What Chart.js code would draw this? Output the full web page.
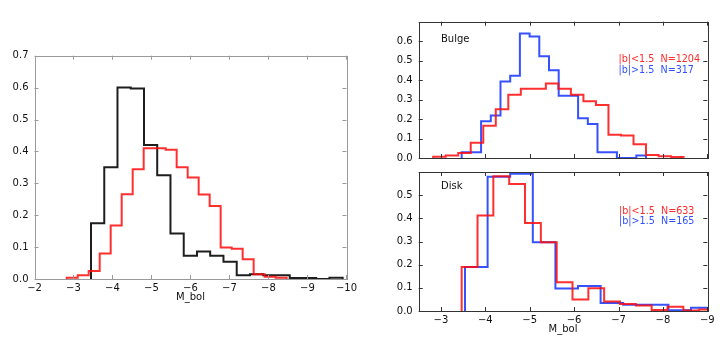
<!DOCTYPE html>
<html>
<head>
<meta charset="utf-8">
<script src="https://cdn.jsdelivr.net/npm/chart.js@4"></script>
<style>
  body { margin: 0; background: #fff; }
  #wrap { position: relative; width: 727px; height: 342px; }
  canvas { position: absolute; }
</style>
</head>
<body>
<div id="wrap">
  <canvas id="all" width="360" height="342" style="left:0;top:0"></canvas>
  <canvas id="bulge" width="367" height="170" style="left:360px;top:0"></canvas>
  <canvas id="disk" width="367" height="182" style="left:360px;top:160px"></canvas>
</div>
<script>
// bin edges (M_bol) and normalised counts
const allBlackEdges = [-3.449, -3.789, -4.128, -4.468, -4.808, -5.147, -5.487, -5.827, -6.167, -6.506,
  -6.846, -7.186, -7.525, -7.865, -8.205, -8.545, -8.884, -9.224, -9.564, -9.903];
const allBlack = [0.175, 0.35, 0.60, 0.597, 0.42, 0.325, 0.143, 0.073, 0.086, 0.073,
  0.054, 0.012, 0.015, 0.012, 0.012, 0.003, 0.003, 0.0, 0.004];

const redEdges = [-2.826, -3.108, -3.390, -3.672, -3.954, -4.236, -4.518, -4.800, -5.082, -5.364, -5.646,
  -5.928, -6.210, -6.492, -6.774, -7.056, -7.338, -7.620, -7.902, -8.184, -8.466];
const allRed = [0.004, 0.012, 0.025, 0.08, 0.168, 0.266, 0.344, 0.41, 0.41, 0.405,
  0.35, 0.318, 0.265, 0.229, 0.099, 0.095, 0.062, 0.015, 0.007, 0.004];

const bulgeRed = [0.006, 0.013, 0.026, 0.078, 0.165, 0.25, 0.325, 0.356, 0.356, 0.382,
  0.356, 0.325, 0.291, 0.272, 0.12, 0.116, 0.071, 0.015, 0.009, 0.005];
const bulgeBlueEdges = [-3.468, -3.687, -3.905, -4.124, -4.342, -4.561, -4.779, -4.998, -5.216, -5.435,
  -5.653, -5.872, -6.090, -6.309, -6.527, -6.746, -6.964, -7.183, -7.401, -7.620];
const bulgeBlue = [0.029, 0.029, 0.189, 0.218, 0.393, 0.422, 0.64, 0.624, 0.522, 0.451,
  0.32, 0.32, 0.204, 0.175, 0.029, 0.029, 0, 0, 0.013];

const diskRedEdges = [-3.468, -3.825, -4.181, -4.538, -4.894, -5.251, -5.608, -5.964, -6.321, -6.677,
  -7.034, -7.391, -7.747, -8.104, -8.460, -8.817, -9.174];
const diskRed = [0.19, 0.412, 0.582, 0.548, 0.38, 0.297, 0.124, 0.05, 0.098, 0.041,
  0.03, 0.024, 0.004, 0.018, 0.002, 0.006];
const diskBlueEdges = [-3.543, -4.052, -4.561, -5.070, -5.579, -6.088, -6.597, -7.106, -7.615, -8.124,
  -8.633, -9.142];
const diskBlue = [0.19, 0.58, 0.592, 0.297, 0.097, 0.108, 0.035, 0.027, 0.027, 0.003, 0.014];

const xTitle = 'M_bol';
const bulgeLabels = ['Bulge', '|b|<1.5  N=1204', '|b|>1.5  N=317'];
const diskLabels = ['Disk', '|b|<1.5  N=633', '|b|>1.5  N=165'];

const RED = 'rgba(255,10,10,0.85)';
const BLUE = 'rgba(20,50,255,0.85)';
const BLACK = '#1e1e1e';

Chart.defaults.font.family = 'DejaVu Sans';
Chart.defaults.font.size = 10;
Chart.defaults.color = '#111';

// turn edges + counts into an outline for a stepped line
function steps(edges, vals) {
  const pts = [{x: edges[0], y: 0}];
  vals.forEach((v, i) => pts.push({x: edges[i], y: v}));
  pts.push({x: edges[vals.length], y: vals[vals.length - 1]});
  pts.push({x: edges[vals.length], y: 0});
  return pts;
}

function ds(edges, vals, color) {
  return {data: steps(edges, vals), borderColor: color, borderWidth: 2, stepped: true,
          pointRadius: 0, fill: false, tension: 0};
}

const isInt = v => Math.abs(v - Math.round(v)) < 1e-6;
const fmtX = v => isInt(v) ? (v < 0 ? '\u2212' + Math.round(-v) : String(Math.round(v))) : '';

// matplotlib style frame with inward ticks, plus free text
const frame = {
  id: 'frame',
  afterDraw(chart, args, opts) {
    const {ctx, chartArea: a, scales: {x, y}} = chart;
    ctx.save();
    ctx.strokeStyle = opts.color;
    ctx.lineWidth = 1;
    ctx.beginPath();
    x.ticks.forEach(t => {
      if (!isInt(t.value)) return;
      const px = Math.round(x.getPixelForValue(t.value)) + 0.5;
      ctx.moveTo(px, a.bottom); ctx.lineTo(px, a.bottom - 4);
      ctx.moveTo(px, a.top); ctx.lineTo(px, a.top + 4);
    });
    y.ticks.forEach(t => {
      const py = Math.round(y.getPixelForValue(t.value)) + 0.5;
      ctx.moveTo(a.left, py); ctx.lineTo(a.left + 4, py);
      ctx.moveTo(a.right, py); ctx.lineTo(a.right - 4, py);
    });
    ctx.stroke();
    ctx.strokeRect(Math.round(a.left) + 0.5, Math.round(a.top) + 0.5,
                   Math.round(a.right - a.left), Math.round(a.bottom - a.top));
    (opts.texts || []).forEach(t => {
      ctx.font = t.size + 'px "DejaVu Sans"';
      ctx.fillStyle = t.color;
      ctx.textBaseline = 'middle';
      ctx.textAlign = 'left';
      ctx.fillText(t.text, t.x, t.y);
    });
    ctx.restore();
  }
};

function make(id, o) {
  return new Chart(document.getElementById(id), {
    type: 'line',
    data: {datasets: o.datasets},
    plugins: [frame],
    options: {
      responsive: false,
      animation: false,
      devicePixelRatio: 1,
      layout: {padding: o.padding},
      plugins: {legend: {display: false}, tooltip: {enabled: false}, frame: o.frame},
      scales: {
        x: {
          type: 'linear', reverse: true, min: o.xmin, max: o.xmax,
          grid: {display: false, drawTicks: false}, border: {display: false},
          afterFit: s => { s.height = o.xh; },
          ticks: {display: o.xlabels, stepSize: 1, autoSkip: false, maxRotation: 0,
                  includeBounds: false, padding: 3, callback: fmtX},
          title: {display: o.xlabels, text: xTitle, padding: {top: 0, bottom: o.tpad},
                  font: {size: 10}}
        },
        y: {
          min: 0, max: o.ymax,
          grid: {display: false, drawTicks: false}, border: {display: false},
          afterFit: s => { s.width = o.yw; },
          ticks: {stepSize: 0.1, padding: 6,
                  callback: v => (o.hideTop && v > o.ymax - 0.05) ? '' : v.toFixed(1)}
        }
      }
    }
  });
}

make('all', {
  datasets: [ds(redEdges, allRed, RED), ds(allBlackEdges, allBlack, BLACK)],
  padding: {left: 0, right: 13.3, top: 55.7, bottom: 0},
  xmin: -10, xmax: -2, ymax: 0.7, xh: 63, yw: 34.5, xlabels: true, tpad: 39, hideTop: false,
  frame: {color: '#9a9a9a'}
});

make('bulge', {
  datasets: [ds(redEdges, bulgeRed, RED), ds(bulgeBlueEdges, bulgeBlue, BLUE)],
  padding: {left: 0, right: 19.7, top: 21.7, bottom: 0},
  xmin: -9, xmax: -2.5, ymax: 0.7, xh: 4, yw: 58.7, xlabels: false, tpad: 0, hideTop: true,
  frame: {color: '#333', texts: [
    {text: bulgeLabels[0], x: 81, y: 39, size: 10, color: '#111'},
    {text: bulgeLabels[1], x: 258.5, y: 59.5, size: 9.6, color: '#ff2a2a'},
    {text: bulgeLabels[2], x: 258.5, y: 70, size: 9.6, color: '#3050ff'}
  ]}
});

make('disk', {
  datasets: [ds(diskRedEdges, diskRed, RED), ds(diskBlueEdges, diskBlue, BLUE)],
  padding: {left: 0, right: 19.7, top: 6, bottom: 0},
  xmin: -9, xmax: -2.5, ymax: 0.6, xh: 31, yw: 58.7, xlabels: true, tpad: 6.5, hideTop: true,
  frame: {color: '#333', texts: [
    {text: diskLabels[0], x: 81, y: 26.7, size: 10, color: '#111'},
    {text: diskLabels[1], x: 259, y: 51.7, size: 9.6, color: '#ff2a2a'},
    {text: diskLabels[2], x: 259, y: 61.7, size: 9.6, color: '#3050ff'}
  ]}
});
</script>
</body>
</html>
